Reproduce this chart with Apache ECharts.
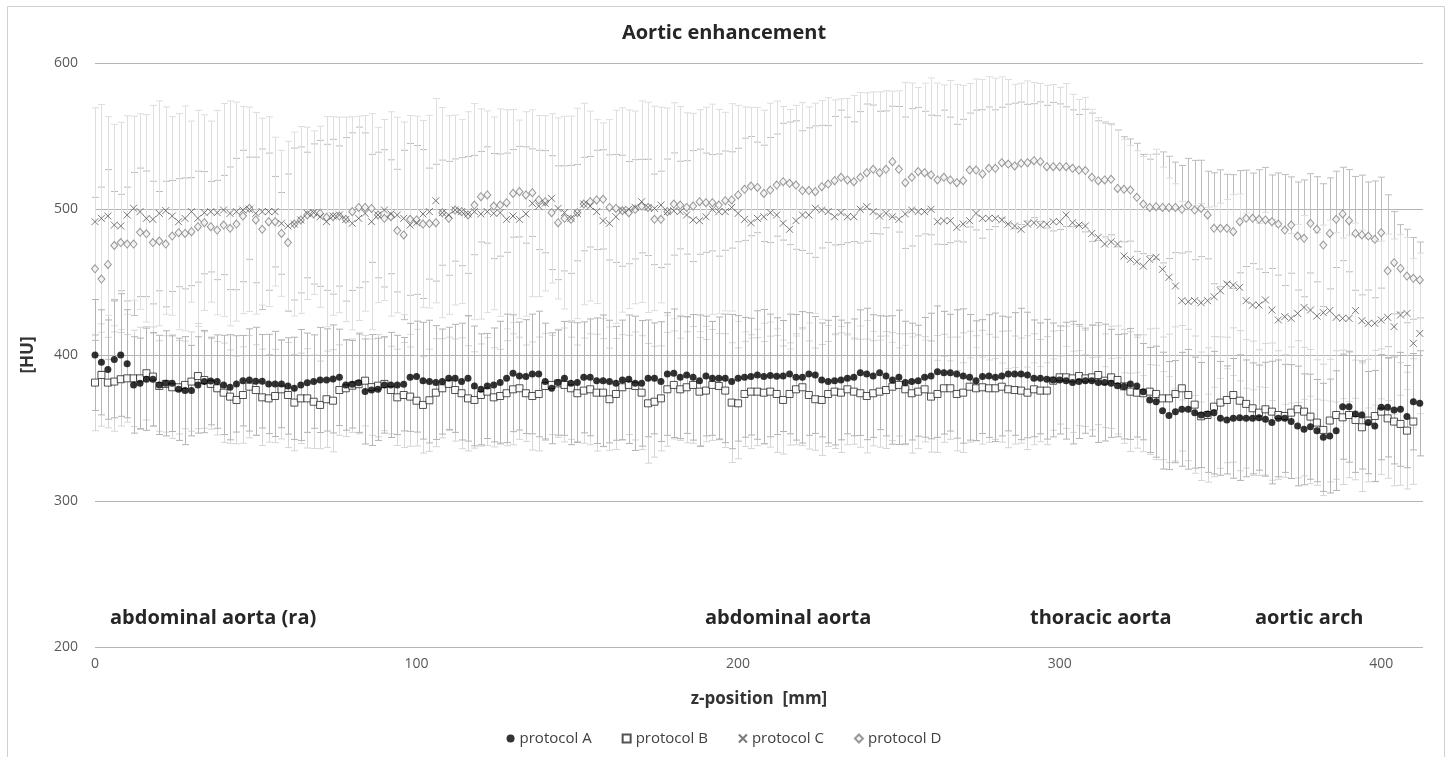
<!DOCTYPE html>
<html>
<head>
<meta charset="utf-8">
<script src="https://cdn.jsdelivr.net/npm/echarts@6/dist/echarts.min.js"></script>
<style>
html,body{margin:0;padding:0;background:#fff;}
#c{width:1448px;height:757px;}
</style>
</head>
<body>
<div id="c"></div>
<script>
// z-position [mm]
const zPos = [
0,2,4,6,8,10,12,14,16,18,
20,22,24,26,28,30,32,34,36,38,
40,42,44,46,48,50,52,54,56,58,
60,62,64,66,68,70,72,74,76,78,
80,82,84,86,88,90,92,94,96,98,
100,102,104,106,108,110,112,114,116,118,
120,122,124,126,128,130,132,134,136,138,
140,142,144,146,148,150,152,154,156,158,
160,162,164,166,168,170,172,174,176,178,
180,182,184,186,188,190,192,194,196,198,
200,202,204,206,208,210,212,214,216,218,
220,222,224,226,228,230,232,234,236,238,
240,242,244,246,248,250,252,254,256,258,
260,262,264,266,268,270,272,274,276,278,
280,282,284,286,288,290,292,294,296,298,
300,302,304,306,308,310,312,314,316,318,
320,322,324,326,328,330,332,334,336,338,
340,342,344,346,348,350,352,354,356,358,
360,362,364,366,368,370,372,374,376,378,
380,382,384,386,388,390,392,394,396,398,
400,402,404,406,408,410,412];

// protocol A mean [HU]
const protA = [
400,395,390,397,400,394,379.5,380.6,383.4,383.4,
379.5,380.6,380.6,376.5,375.6,375.6,379.5,381.8,382.2,381.8,
379.5,377.9,380.2,382.4,382.9,382,382,380.2,380.2,380.2,
378.8,377.2,379.5,381,381.8,382.9,382.9,383.6,384.7,379.5,
380,381,375,376,376.5,379.5,379.5,379.5,380,384.7,
385.2,382.4,381.8,381.1,381.8,384,384,381.8,384,378.8,
376.5,378.8,379.5,381.1,384,387.5,385.6,385.2,387,387,
381.8,377.2,381.1,384,380.6,381.1,384.7,384.7,382.4,382.4,
381.8,380.6,382.9,383.4,380.6,380.6,384,384,381.8,387,
387.5,384.7,386.3,384.7,382.4,385.6,384,384,384,381.8,
384,384.7,385.2,386.3,385.2,386,385.5,385.6,387,384.7,
384.7,387,386.3,382.9,381.8,382.4,382.9,384,384.7,387.9,
387,385.6,387.9,385.6,382.9,384.7,381.1,381.8,382.4,384.7,
385.6,388.6,387.9,387.9,387,385.6,384.7,382.4,385.2,385.6,
384.7,385.6,387,387,387,386.3,384,384,383.4,382.9,
382.9,382.4,381.1,381.8,382.4,382.4,381.1,381.1,380.6,379,
378.5,380.2,378.8,374.9,369.2,368,361.9,358.5,361.2,362.8,
362.8,360.5,358.9,359.6,360.5,356.6,355.5,356.6,357.1,356.6,
356.6,357.1,356,353.7,356.6,356.6,354.4,351.4,349.1,350.9,
348.2,343.6,344.5,348.2,364.6,364.6,359.6,358.9,353.7,351.4,
364.2,364.2,362.4,362.8,357.8,368,366.9];
const sdA = [
38,36,34,40,42,37,33,31,35,32,
34,36,33,35,37,31,33,35,30,32,
34,36,33,31,35,37,32,34,36,30,
33,35,38,34,32,36,35,37,33,31,
30,34,36,38,35,33,36,34,32,37,
38,40,42,39,36,35,37,40,43,41,
38,36,39,42,44,40,37,39,41,43,
40,38,36,39,42,41,38,40,43,45,
42,39,41,44,46,43,40,38,41,42,
44,42,40,43,45,41,39,42,44,46,
43,41,40,44,46,42,40,38,41,43,
45,42,40,39,42,44,41,38,40,43,
45,42,39,41,44,46,42,40,38,41,
43,45,42,40,44,46,43,41,39,42,
44,41,39,42,45,43,40,38,41,39,
37,40,42,39,36,38,41,40,37,35,
36,38,35,33,36,38,40,37,35,39,
41,38,36,40,42,39,37,41,43,40,
38,36,39,42,40,37,39,41,38,36,
35,37,39,41,36,38,40,37,35,38,
36,34,37,39,35,33,36];

// protocol B mean [HU]
const protB = [
381.1,386.3,381.1,381.8,383.4,384,384,384,387.5,385.2,
378.8,380.2,377.9,377.9,379.5,381.8,385.6,382.9,380.2,377.2,
374.2,371.5,369.2,372.6,378.3,376,371,370.3,371.9,376.5,
372.6,367.4,370.3,370.3,368,365.8,369.7,368.7,376,377.2,
379,380,382.4,378,379,380.2,376,371,372.6,371.5,
368.7,365.8,369,374.2,377.2,380.2,376,373.8,370.3,369.2,
372.6,374.9,371,371.9,373.8,376.5,377.2,373.8,371.9,373.3,
378.8,379.5,380.6,379.5,377.2,373.8,375.6,376.5,374.2,374.2,
369.7,373.3,377.9,379.5,378.8,374.2,366.9,368,370.3,376.5,
379.5,376.5,377.9,379.5,374.9,375.6,379.5,378.8,375.6,367.4,
366.9,373.3,374.9,374.9,374.2,374.9,373.3,369.2,373.3,376.5,
377.9,372.6,369.7,369.2,373.3,374.9,374.2,376.5,374.9,373.8,
371.9,373.8,374.9,376,378.3,379.5,376.5,373.8,374.9,376.5,
371.5,373.3,377.2,377.2,373.3,374.2,378.3,377.2,377.9,377.2,
377.2,378.3,376.5,376,375.6,374.2,376.5,375.6,375.6,382.4,
384.7,384.7,384,385.6,384,384.7,386.3,382.4,384.7,382.9,
378.5,374.9,374.2,373.8,374.9,373.3,370.3,370.3,373.3,377.2,
372.6,366,358,358.9,364.6,367.4,369.2,372.6,368.7,366.5,
363.5,360.5,362.8,361.2,358.9,358.2,360.5,362.8,361.2,357.8,
353.7,348.7,355.1,358.9,357.3,358.9,355.5,350.5,355.1,358.2,
361.2,356.6,354.4,352.8,348.2,354.4,null];
const sdB = [
33,35,31,34,32,30,33,35,32,34,
31,33,35,32,30,34,36,33,31,32,
34,32,30,33,35,31,33,30,32,34,
36,33,31,34,32,30,33,35,31,33,
32,34,31,33,35,32,30,33,36,34,
31,33,35,37,34,32,35,38,36,33,
35,37,34,32,36,38,35,33,37,39,
36,34,37,39,35,33,36,38,40,37,
35,38,36,34,37,39,41,38,36,39,
37,35,38,40,37,35,38,36,39,41,
38,36,39,37,35,38,40,37,35,38,
40,37,35,38,36,39,41,38,36,37,
39,36,38,40,37,35,38,41,39,36,
38,40,37,35,39,41,38,36,39,37,
35,38,40,37,36,39,38,35,37,34,
32,35,37,34,33,36,34,32,35,37,
39,41,38,40,43,45,42,44,46,43,
45,47,44,46,48,45,43,46,48,44,
46,43,45,47,44,42,45,47,44,46,
43,45,42,44,46,43,41,44,42,45,
43,41,44,42,40,43,null];

// protocol C mean [HU]
const protC = [
491.3,493.6,495.2,489,488.4,495.9,500.5,498.2,493.6,492.9,
497,498.9,495.2,491.3,493.6,498.2,493.6,497.5,498.2,497.5,
499.3,497,498.2,499.3,499.8,497,498.2,498.2,498.2,490.2,
488.4,489.7,492.5,497,497.5,494.7,491.3,495.2,495.9,492.9,
490.2,493.6,497,491.3,495.9,499.3,496.6,495.9,493.6,489,
490.6,496.6,498.2,505.7,497.5,495.9,499.3,498.2,496.6,498.2,
496.6,498.2,497,497.5,492.9,495.2,492.9,496.6,503.9,502,
503.9,507.3,500.4,497.5,493.6,497,503.4,502,498.2,492,
490.2,494.7,499.3,499.8,501.1,505,501.1,500.4,502.7,498.2,
498.8,498.2,495.9,492.5,492,494.7,499.8,498.2,498.2,501.1,
497,492.9,490.6,493.6,494.7,497.5,495.9,490.2,486.1,492,
495.9,495.9,500.5,499.3,498.2,494.7,497.5,494.7,494.7,499.8,
501.6,498.2,495.2,497,494.7,492.9,496.6,499.3,498.2,498.2,
499.8,491.3,492,492,487.4,489.7,492,497,493.6,493.6,
493.6,492.5,489.7,488.4,486.1,489.7,490.6,489,489.7,491.3,
491.3,495.9,490.6,489,488.4,483.3,480.6,476,477.6,476,
467.8,465.5,463.9,460.9,465.5,466.9,458.7,453.2,447.3,437.2,
436.5,437.2,435.8,437.2,439.9,444,448.6,447.9,446.3,437.2,
434.2,434.2,437.7,430.8,424,426.2,425.1,428.5,432.6,430.8,
426.7,429,430.4,425.8,425.1,425.1,430.4,423.5,421.7,421.7,
424,425.8,419.4,427.4,428.5,408,414.8];
const sdC = [
78,78,68,69,71,68,63,67,71,78,
77,71,68,74,77,62,74,67,62,70,
73,77,75,71,70,69,64,65,51,50,
58,63,64,59,56,62,72,68,67,70,
73,70,67,74,60,62,70,67,66,75,
73,64,66,70,72,68,65,63,70,74,
72,69,66,71,75,73,68,70,64,62,
60,58,62,66,70,72,69,65,63,67,
71,73,70,68,66,69,72,70,67,71,
74,72,70,73,76,75,72,70,68,71,
74,77,79,76,73,75,78,80,82,79,
77,74,72,75,78,80,78,81,83,80,
78,82,85,84,86,88,90,87,85,88,
90,95,93,96,98,95,94,92,95,97,
96,98,99,97,100,98,96,97,95,94,
92,90,88,86,88,85,82,84,80,78,
80,78,76,75,72,74,70,68,70,68,
66,65,68,64,62,60,58,62,64,60,
58,56,60,62,64,60,58,61,63,59,
57,60,62,58,55,57,60,62,58,56,
54,57,60,55,52,58,55];

// protocol D mean [HU]
const protD = [
459,452,462,475,477,476,476,484,483,477,
478,476,481.5,483.8,483.3,484.5,487.9,490.6,487.9,485.6,
489,486.8,489.7,495.2,500.5,492.5,486.1,491.3,491.3,483.3,
477,489.7,492.5,495.9,496.6,497,494.3,494.7,495.2,492.9,
498.2,501.1,501.1,500.4,495.9,493.6,494.7,485.2,482.2,492.9,
492.5,489.7,490,490.6,497.5,493.6,499.3,498.2,495.9,502.7,
508.4,509.6,502,502.7,504.3,510.7,511.9,509.6,511.2,506.2,
505,497.5,490.6,493.6,492.9,497.5,503.4,505,506.2,506.6,
501.1,500.4,498.8,497.5,499.8,502,501.1,492.9,492.9,498.2,
503.4,502.7,501.1,502,505,504.3,504.3,502.7,505.7,506.2,
509.6,513.5,515.7,514.8,510.7,513,516.4,518.7,517.6,516.4,
512.6,512.6,511.9,515.3,517.1,519.4,521.7,519.9,518.7,521.7,
524.9,527.2,524.9,527.2,532.4,527.2,518,521.7,525.6,524.9,
523.3,519.9,521.7,519.9,518,519.4,526.7,526.7,524,527.9,
527.9,531.7,530.8,529.5,531.3,531.7,533.1,532.4,529,529,
529,529,527.9,526.7,526.3,521.7,519.4,519.9,520.3,514.1,
513.5,513,508,503.4,501.1,501.6,501.1,501.1,501.1,499.8,
502.7,499.3,500.4,495.9,486.8,486.8,486.8,484.5,491.3,493.6,
493.6,492.9,492.5,491.3,489.7,485.6,489,481.5,479.9,490.2,
486.1,475.3,483.3,492.9,496.6,492,483.3,482.2,481.5,479.2,
483.8,457.7,463.2,459.3,454.1,452.5,451.4];
const sdD = [
49,63,65,37,33,39,49,44,43,42,
34,43,38,37,38,37,38,35,31,34,
34,42,45,45,35,43,55,47,31,28,
47,52,50,43,48,50,50,53,48,56,
54,55,51,37,43,47,39,42,58,52,
51,51,38,40,36,39,35,37,40,34,
31,33,36,35,34,30,31,33,30,34,
35,39,39,36,37,33,32,31,34,34,
36,37,38,35,34,32,33,31,33,36,
35,30,32,38,36,34,33,35,34,33,
32,35,34,31,33,36,35,40,42,44,
41,43,45,42,40,44,46,43,41,45,
47,44,42,40,38,43,45,47,44,42,
41,44,46,43,40,42,39,41,44,42,
40,38,41,43,42,40,39,41,42,44,
43,41,40,38,42,44,41,39,38,40,
36,35,37,34,33,36,38,35,31,30,
32,34,33,30,38,40,37,39,35,33,
31,34,36,32,35,38,33,37,40,34,
36,42,38,33,32,35,39,41,37,40,
38,52,35,30,32,28,26];

const yTicks = [200, 300, 400, 500, 600];
const xTicks = [0, 100, 200, 300, 400];
const seriesNames = ['protocol A', 'protocol B', 'protocol C', 'protocol D'];
const regionLabels = ['abdominal aorta (ra)', 'abdominal aorta', 'thoracic aorta', 'aortic arch'];

function pts(vals) {
  const out = [];
  for (let i = 0; i < zPos.length; i++) {
    if (vals[i] != null) out.push([zPos[i], vals[i]]);
  }
  return out;
}
function errs(vals, sds) {
  const out = [];
  for (let i = 0; i < zPos.length; i++) {
    if (vals[i] != null && sds[i] != null) out.push([zPos[i], vals[i] - sds[i], vals[i] + sds[i]]);
  }
  return out;
}
function errSeries(data, color) {
  return {
    type: 'custom',
    silent: true,
    z: 1,
    data: data,
    encode: { x: 0, y: [1, 2] },
    renderItem: function (params, api) {
      const x = api.value(0), lo = api.value(1), hi = api.value(2);
      const p1 = api.coord([x, hi]);
      const p2 = api.coord([x, lo]);
      const hw = 3.5;
      const st = { stroke: color, lineWidth: 1 };
      const px = Math.round(p1[0]) + 0.5;
      return {
        type: 'group',
        children: [
          { type: 'line', shape: { x1: px, y1: p1[1], x2: px, y2: p2[1] }, style: st },
          { type: 'line', shape: { x1: px - hw, y1: p1[1], x2: px + hw, y2: p1[1] }, style: st },
          { type: 'line', shape: { x1: px - hw, y1: p2[1], x2: px + hw, y2: p2[1] }, style: st }
        ]
      };
    }
  };
}

const FONT = '"Open Sans", "Noto Sans", sans-serif';
const crossPath = 'path://M0,0L10,10M10,0L0,10';

const chart = echarts.init(document.getElementById('c'), null, { renderer: 'canvas' });
const option = {
  animation: false,
  backgroundColor: '#ffffff',
  title: {
    text: 'Aortic enhancement',
    left: 'center',
    top: 18,
    textStyle: { fontFamily: FONT, fontSize: 20, fontWeight: 'bold', color: '#262626' }
  },
  grid: { left: 95, right: 25, top: 63, bottom: 110, containLabel: false },
  legend: {
    data: seriesNames,
    bottom: 6,
    left: 'center',
    itemWidth: 8,
    itemHeight: 8,
    itemGap: 30,
    textStyle: { fontFamily: FONT, fontSize: 15, color: '#404040' }
  },
  xAxis: {
    type: 'value',
    min: xTicks[0],
    max: 413,
    interval: 100,
    axisLine: { show: false },
    axisTick: { show: false },
    splitLine: { show: false },
    axisLabel: {
      margin: 10,
      fontFamily: FONT, fontSize: 14, color: '#595959',
      showMaxLabel: false,
      formatter: function (v) { return xTicks.indexOf(v) >= 0 ? String(v) : ''; }
    },
    name: 'z-position  [mm]',
    nameLocation: 'middle',
    nameGap: 44,
    nameTextStyle: { fontFamily: FONT, fontSize: 17, fontWeight: 'bold', color: '#333333' }
  },
  yAxis: {
    type: 'value',
    min: yTicks[0],
    max: yTicks[yTicks.length - 1],
    interval: 100,
    axisLine: { show: false },
    axisTick: { show: false },
    splitLine: { show: true, lineStyle: { color: '#b4b4b4', width: 1 } },
    axisLabel: { margin: 17, fontFamily: FONT, fontSize: 14, color: '#595959' },
    name: '[HU]',
    nameLocation: 'middle',
    nameGap: 58,
    nameRotate: 90,
    nameTextStyle: { fontFamily: FONT, fontSize: 17, fontWeight: 'bold', color: '#333333' }
  },
  graphic: [
    { type: 'rect', silent: true, shape: { x: 7.5, y: 6.5, width: 1437, height: 800 },
      style: { fill: 'none', stroke: '#d0d0d0', lineWidth: 1 }, z: -10 },
    { type: 'text', left: 110, top: 608, style: { text: regionLabels[0], font: 'bold 20px ' + FONT, fill: '#262626' } },
    { type: 'text', left: 705, top: 608, style: { text: regionLabels[1], font: 'bold 20px ' + FONT, fill: '#262626' } },
    { type: 'text', left: 1030, top: 608, style: { text: regionLabels[2], font: 'bold 20px ' + FONT, fill: '#262626' } },
    { type: 'text', left: 1255, top: 608, style: { text: regionLabels[3], font: 'bold 20px ' + FONT, fill: '#262626' } }
  ],
  series: [
    errSeries(errs(protD, sdD), '#bdbdbd'),
    errSeries(errs(protC, sdC), '#dedede'),
    errSeries(errs(protB, sdB), '#d6d6d6'),
    errSeries(errs(protA, sdA), '#b4b4b4'),
    {
      name: seriesNames[3], type: 'scatter', z: 3, data: pts(protD),
      symbol: 'diamond', symbolSize: [7, 8],
      itemStyle: { color: '#f2f2f2', borderColor: '#808080', borderWidth: 1 }
    },
    {
      name: seriesNames[2], type: 'scatter', z: 4, data: pts(protC),
      symbol: crossPath, symbolSize: 7,
      itemStyle: { color: 'rgba(0,0,0,0)', borderColor: '#595959', borderWidth: 1 }
    },
    {
      name: seriesNames[1], type: 'scatter', z: 5, data: pts(protB),
      symbol: 'rect', symbolSize: 7,
      itemStyle: { color: '#ffffff', borderColor: '#262626', borderWidth: 1 }
    },
    {
      name: seriesNames[0], type: 'scatter', z: 6, data: pts(protA),
      symbol: 'circle', symbolSize: 7,
      itemStyle: { color: '#000000' }
    }
  ]
};
chart.setOption(option);
</script>
</body>
</html>
